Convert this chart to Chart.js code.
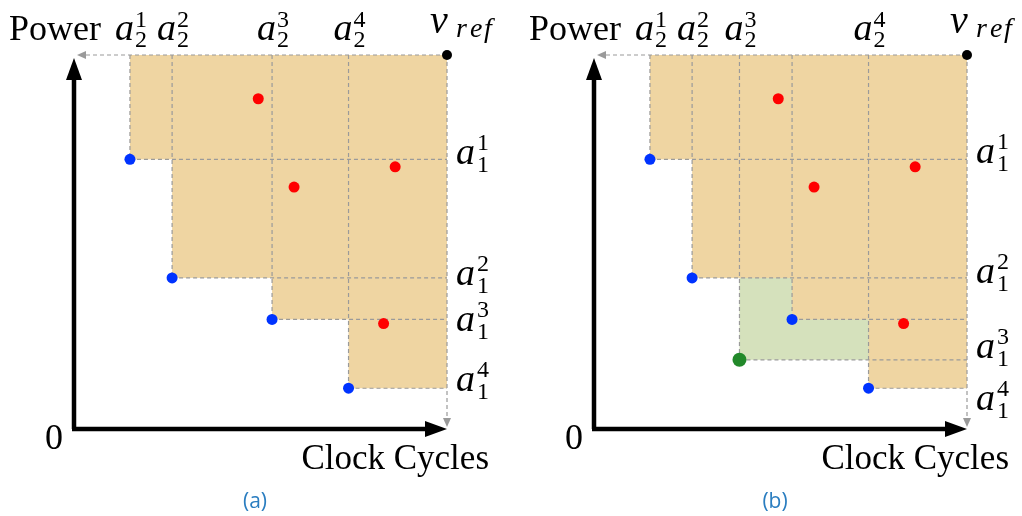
<!DOCTYPE html>
<html>
<head>
<meta charset="utf-8">
<script src="https://cdn.jsdelivr.net/npm/chart.js@4/dist/chart.umd.min.js"></script>
<style>
  html, body { margin: 0; padding: 0; background: #fff; }
  body { width: 1022px; height: 516px; position: relative; overflow: hidden; }
  .panel { position: absolute; top: 0; height: 516px; }
  #pa { left: 0; width: 511px; }
  #pb { left: 520px; width: 502px; }
  .preload { position: absolute; left: -9999px; top: 0; font-family: "Liberation Serif"; }
</style>
</head>
<body>
<span class="preload">Power 0 a<i>a v ref</i> 1234</span>
<div class="panel" id="pa"><canvas id="ca"></canvas></div>
<div class="panel" id="pb"><canvas id="cb"></canvas></div>
<script>
// ---------------- data (in axis units: 0..100 on both axes) ----------------
const refPoint = { x: 100, y: 100 };                       // v_ref
const bluePointsX = [15.0, 26.3, 53.1, 73.6];               // a_2^i (clock cycles)
const bluePointsY = [72.1, 40.4, 29.3, 10.9];               // a_1^i (power)
const redPointsX  = [49.4, 59.0, 86.1, 83.0];
const redPointsY  = [88.3, 64.7, 70.1, 28.2];
const greenPointX = [39.0];                                 // new point in panel (b)
const greenPointY = [18.5];
const xTickLabelsA = ['1', '2', '3', '4'];                  // superscripts of a_2
const yTickLabelsA = ['1', '2', '3', '4'];                  // superscripts of a_1
const panelCaptions = ['(a)', '(b)'];
const axisTitleX = 'Clock Cycles';
const axisTitleY = 'Power';
const originLabel = '0';

// ---------------- styles ----------------
const ORANGE = '#efd5a2';
const GREEN_FILL = '#d5e1bc';
const DASH = '#9a9a9a';
const SERIF = '"Liberation Serif", "DejaVu Serif", serif';
const A_FONT = 'italic 38px ' + SERIF;
const S_FONT = '24px ' + SERIF;

function mathLabel(ctx, cx, base, sup, sub) {
  ctx.font = A_FONT;
  const aw = ctx.measureText('a').width;
  ctx.font = S_FONT;
  const sw = Math.max(ctx.measureText(sup).width, ctx.measureText(sub).width);
  const total = aw + 1 + sw;
  const x0 = cx - total / 2;
  ctx.fillStyle = '#000';
  ctx.textAlign = 'left';
  ctx.textBaseline = 'alphabetic';
  ctx.font = A_FONT;
  ctx.fillText('a', x0, base);
  ctx.font = S_FONT;
  ctx.fillText(sup, x0 + aw + 1, base - 13);
  ctx.fillText(sub, x0 + aw + 1, base + 7);
}

function arrowHead(ctx, tipX, tipY, dir, len, half, color) {
  ctx.save();
  ctx.fillStyle = color;
  ctx.beginPath();
  if (dir === 'up') { ctx.moveTo(tipX, tipY); ctx.lineTo(tipX - half, tipY + len); ctx.lineTo(tipX + half, tipY + len); }
  if (dir === 'right') { ctx.moveTo(tipX, tipY); ctx.lineTo(tipX - len, tipY - half); ctx.lineTo(tipX - len, tipY + half); }
  if (dir === 'left') { ctx.moveTo(tipX, tipY); ctx.lineTo(tipX + len, tipY - half); ctx.lineTo(tipX + len, tipY + half); }
  if (dir === 'down') { ctx.moveTo(tipX, tipY); ctx.lineTo(tipX - half, tipY - len); ctx.lineTo(tipX + half, tipY - len); }
  ctx.closePath();
  ctx.fill();
  ctx.restore();
}

function makePanel(canvasId, withGreen, caption, rightLabelOffsets) {
  const regionPlugin = {
    id: 'regions',
    beforeDatasetsDraw(chart) {
      const { ctx, scales: { x, y } } = chart;
      const rx = x.getPixelForValue(refPoint.x), ry = y.getPixelForValue(refPoint.y);
      ctx.save();
      if (withGreen) {
        const gx = x.getPixelForValue(greenPointX[0]), gy = y.getPixelForValue(greenPointY[0]);
        ctx.fillStyle = GREEN_FILL;
        ctx.fillRect(gx, ry, rx - gx, gy - ry);
      }
      ctx.fillStyle = ORANGE;
      for (let i = 0; i < bluePointsX.length; i++) {
        const px = x.getPixelForValue(bluePointsX[i]), py = y.getPixelForValue(bluePointsY[i]);
        ctx.fillRect(px, ry, rx - px, py - ry);
      }
      ctx.strokeStyle = DASH;
      ctx.lineWidth = 1.2;
      ctx.setLineDash([4, 3]);
      const xs = bluePointsX.slice(), ys = bluePointsY.slice();
      if (withGreen) { xs.push(greenPointX[0]); ys.push(greenPointY[0]); }
      for (let i = 0; i < xs.length; i++) {
        const px = x.getPixelForValue(xs[i]), py = y.getPixelForValue(ys[i]);
        ctx.beginPath(); ctx.moveTo(px, ry); ctx.lineTo(px, py); ctx.stroke();
        ctx.beginPath(); ctx.moveTo(px, py); ctx.lineTo(rx, py); ctx.stroke();
      }
      const ox = x.getPixelForValue(0), oy = y.getPixelForValue(0);
      ctx.beginPath(); ctx.moveTo(rx, ry); ctx.lineTo(ox + 10, ry); ctx.stroke();
      ctx.beginPath(); ctx.moveTo(rx, ry); ctx.lineTo(rx, oy - 10); ctx.stroke();
      ctx.setLineDash([]);
      arrowHead(ctx, ox + 3, ry, 'left', 9, 4, DASH);
      arrowHead(ctx, rx, oy - 2, 'down', 9, 4, DASH);
      ctx.strokeStyle = '#000';
      ctx.lineWidth = 4.5;
      ctx.beginPath(); ctx.moveTo(ox, oy); ctx.lineTo(ox, ry + 20); ctx.stroke();
      ctx.beginPath(); ctx.moveTo(ox - 2, oy); ctx.lineTo(rx - 20, oy); ctx.stroke();
      arrowHead(ctx, ox, ry + 3, 'up', 22, 8, '#000');
      arrowHead(ctx, rx, oy, 'right', 22, 8, '#000');
      ctx.restore();
    },
    afterDraw(chart) {
      const { ctx, scales: { x, y } } = chart;
      const rx = x.getPixelForValue(refPoint.x);
      const ox = x.getPixelForValue(0);
      ctx.save();
      ctx.fillStyle = '#000';
      ctx.textBaseline = 'alphabetic';
      ctx.font = '36px ' + SERIF;
      ctx.textAlign = 'left';
      ctx.fillText(axisTitleY, 9, 40);
      ctx.font = '35px ' + SERIF;
      ctx.textAlign = 'right';
      ctx.fillText(axisTitleX, 489, 469);
      ctx.font = '36px ' + SERIF;
      ctx.textAlign = 'center';
      ctx.fillText(originLabel, ox - 20, 449);
      const topXs = bluePointsX.slice();
      if (withGreen) topXs.splice(2, 1, greenPointX[0]);
      for (let i = 0; i < topXs.length; i++) {
        mathLabel(ctx, x.getPixelForValue(topXs[i]) + 1, 40, xTickLabelsA[i], '2');
      }
      for (let i = 0; i < bluePointsY.length; i++) {
        const py = y.getPixelForValue(bluePointsY[i]) + rightLabelOffsets[i];
        ctx.font = A_FONT;
        const aw = ctx.measureText('a').width;
        ctx.textAlign = 'left';
        ctx.fillText('a', 456, py + 8);
        ctx.font = S_FONT;
        ctx.fillText(yTickLabelsA[i], 458 + aw, py - 6);
        ctx.fillText('1', 458 + aw, py + 16);
      }
      ctx.textAlign = 'left';
      ctx.font = 'italic 40px ' + SERIF;
      ctx.fillText('v', rx - 17, 33);
      ctx.font = 'italic 28px ' + SERIF;
      ['r', 'e', 'f'].forEach((c, k) => ctx.fillText(c, rx + 9 + k * 14, 37));
      ctx.fillStyle = '#2a7dc0';
      ctx.font = '21px "Open Sans", sans-serif';
      ctx.textAlign = 'center';
      ctx.fillText(caption, 255, 508);
      ctx.restore();
    }
  };

  const pt = (r, c) => ({ pointRadius: r, pointHoverRadius: r, pointBackgroundColor: c, pointBorderWidth: 0, clip: false });
  const datasets = [
    Object.assign({ label: 'red', data: redPointsX.map((v, i) => ({ x: v, y: redPointsY[i] })) }, pt(5.5, '#ff0000')),
    Object.assign({ label: 'blue', data: bluePointsX.map((v, i) => ({ x: v, y: bluePointsY[i] })) }, pt(5.5, '#0033ff')),
    Object.assign({ label: 'ref', data: [{ x: refPoint.x, y: refPoint.y }] }, pt(5, '#000'))
  ];
  if (withGreen) {
    datasets.push(Object.assign({ label: 'green', data: greenPointX.map((v, i) => ({ x: v, y: greenPointY[i] })) }, pt(7, '#22892a')));
  }

  const canvas = document.getElementById(canvasId);
  const w = canvas.parentElement.clientWidth;
  return new Chart(canvas, {
    type: 'scatter',
    data: { datasets },
    options: {
      responsive: true,
      maintainAspectRatio: false,
      animation: false,
      devicePixelRatio: 1,
      layout: { padding: { left: 74, right: w - 447, top: 55, bottom: 516 - 429 } },
      scales: {
        x: { type: 'linear', min: 0, max: 100, display: false },
        y: { type: 'linear', min: 0, max: 100, display: false }
      },
      plugins: { legend: { display: false }, tooltip: { enabled: false } }
    },
    plugins: [regionPlugin]
  });
}

const charts = [];
function build() {
  charts.push(makePanel('ca', false, panelCaptions[0], [-3, -1, 4, -5]));
  charts.push(makePanel('cb', true, panelCaptions[1], [-4, -3, 31, 14]));
}
const loads = [
  'italic 38px "Liberation Serif"', '34px "Liberation Serif"', '24px "Liberation Serif"', '21px "Open Sans"'
].map(f => document.fonts.load(f).catch(() => null));
Promise.all(loads).then(build, build);
document.fonts.ready.then(() => charts.forEach(c => c.update()));
</script>
</body>
</html>
